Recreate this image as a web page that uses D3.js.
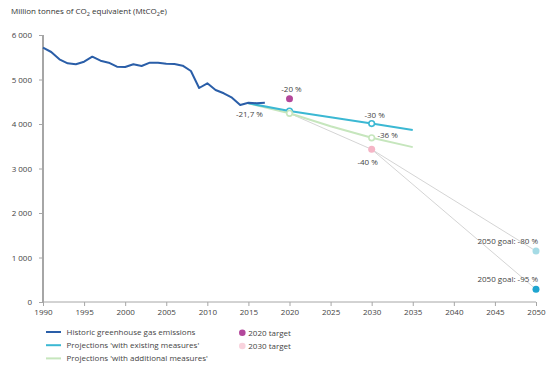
<!DOCTYPE html>
<html>
<head>
<meta charset="utf-8">
<script src="https://cdn.jsdelivr.net/npm/d3@7"></script>
<style>
  body { margin: 0; background: #fff; }
  svg { display: block; font-family: "Open Sans", sans-serif; }
</style>
</head>
<body>
<svg id="chart" width="558" height="368"></svg>
<script>
// data (MtCO2e)
const historicYears = d3.range(1990, 2018);
const historicValues = [5715, 5618, 5454, 5364, 5342, 5400, 5512, 5423, 5378, 5288,
  5281, 5342, 5303, 5378, 5378, 5355, 5348, 5310, 5191, 4809,
  4914, 4764, 4690, 4591, 4427, 4479, 4465, 4479];
const projYears = [2015, 2020, 2025, 2030, 2035];
const existingValues = [4465, 4290, 4150, 4010, 3865];
const additionalValues = [4465, 4240, 3950, 3690, 3480];
const yTicks = [0, 1000, 2000, 3000, 4000, 5000, 6000];
const xTicks = d3.range(1990, 2051, 5);

const target2020 = {year: 2020, value: 4569};
const target2030 = {year: 2030, value: 3430};
const goal80 = {year: 2050, value: 1144};
const goal95 = {year: 2050, value: 286};

const width = 558, height = 368;
const svg = d3.select('#chart');

// scales
const x = d3.scaleLinear().domain([1990, 2050]).range([43, 536]);
const y = d3.scaleLinear().domain([0, 6000]).range([302, 35]);

// title
const title = svg.append('text')
  .attr('x', 11).attr('y', 14)
  .attr('font-size', 8).attr('fill', '#333');
title.append('tspan').text('Million tonnes of CO');
title.append('tspan').attr('font-size', 5.5).attr('dy', 2).text('2');
title.append('tspan').attr('dy', -2).text(' equivalent (MtCO');
title.append('tspan').attr('font-size', 5.5).attr('dy', 2).text('2');
title.append('tspan').attr('dy', -2).text('e)');

// axes
const yAxis = svg.append('g')
  .attr('transform', 'translate(43,0)')
  .call(d3.axisLeft(y).tickValues(yTicks).tickSize(4).tickPadding(7)
    .tickFormat(d => d3.format(',')(d).replace(',', ' ')));
yAxis.select('.domain').attr('stroke', '#a6a6a6').attr('stroke-width', 2)
  .attr('d', `M0,${y(6000)}V${y(0)}`);

const xAxis = svg.append('g')
  .attr('transform', 'translate(0,302)')
  .call(d3.axisBottom(x).tickValues(xTicks).tickSize(4).tickPadding(3)
    .tickFormat(d3.format('d')));
xAxis.select('.domain').attr('stroke', '#a6a6a6').attr('d', `M${x(1990)},0H${x(2050)}`);

[yAxis, xAxis].forEach(a => {
  a.selectAll('.tick line').attr('stroke', '#a6a6a6');
  a.selectAll('.tick text').attr('fill', '#444').attr('font-size', 8)
    .attr('font-family', '"Open Sans", sans-serif');
});

// grey goal paths
const gline = d3.line().x(d => x(d.year)).y(d => y(d.value));
const start2020 = {year: 2020, value: additionalValues[1]};
svg.append('path')
  .attr('d', gline([start2020, target2030, goal80]))
  .attr('fill', 'none').attr('stroke', '#cfcfcf').attr('stroke-width', 0.9);
svg.append('path')
  .attr('d', gline([target2030, goal95]))
  .attr('fill', 'none').attr('stroke', '#cfcfcf').attr('stroke-width', 0.9);

// lines
const line = d3.line().x(d => x(d[0])).y(d => y(d[1]));
svg.append('path')
  .attr('d', line(d3.zip(projYears, additionalValues)))
  .attr('fill', 'none').attr('stroke', '#c6e6bd').attr('stroke-width', 2);
svg.append('path')
  .attr('d', line(d3.zip(projYears, existingValues)))
  .attr('fill', 'none').attr('stroke', '#3bb8d3').attr('stroke-width', 2);
svg.append('path')
  .attr('d', line(d3.zip(historicYears, historicValues)))
  .attr('fill', 'none').attr('stroke', '#2a5ea8').attr('stroke-width', 2)
  .attr('stroke-linejoin', 'round');

// ring markers
const rings = [
  [2020, existingValues[1], '#3bb8d3'],
  [2030, existingValues[3], '#3bb8d3'],
  [2020, additionalValues[1], '#c6e6bd'],
  [2030, additionalValues[3], '#c6e6bd']
];
svg.selectAll('circle.ring').data(rings).join('circle')
  .attr('class', 'ring')
  .attr('cx', d => x(d[0])).attr('cy', d => y(d[1])).attr('r', 2.8)
  .attr('fill', '#fff').attr('stroke', d => d[2]).attr('stroke-width', 1.6);

// target dots
const dots = [
  [target2020, '#b3479b'],
  [target2030, '#f5b5c6'],
  [goal80, '#a5dbe5'],
  [goal95, '#1fa5cf']
];
svg.selectAll('circle.dot').data(dots).join('circle')
  .attr('class', 'dot')
  .attr('cx', d => x(d[0].year)).attr('cy', d => y(d[0].value)).attr('r', 3.5)
  .attr('fill', d => d[1]);

// labels
const labels = [
  ['-21,7 %', 2015, historicValues[25], 1, 12, 'middle'],
  ['-20 %', 2020, target2020.value, 2, -9, 'middle'],
  ['-30 %', 2030, existingValues[3], 3, -8, 'middle'],
  ['-36 %', 2030, additionalValues[3], 16, -3, 'middle'],
  ['-40 %', 2030, target2030.value, -4, 13, 'middle'],
  ['2050 goal: -80 %', 2050, goal80.value, 2, -10, 'end'],
  ['2050 goal: -95 %', 2050, goal95.value, 2, -10, 'end']
];
svg.selectAll('text.lab').data(labels).join('text')
  .attr('class', 'lab')
  .attr('x', d => x(d[1]) + d[3]).attr('y', d => y(d[2]) + d[4])
  .attr('dy', '0.35em').attr('text-anchor', d => d[5])
  .attr('font-size', 8).attr('fill', '#444').text(d => d[0]);

// legend
const legLines = [
  ['Historic greenhouse gas emissions', '#2a5ea8'],
  ["Projections 'with existing measures'", '#3bb8d3'],
  ["Projections 'with additional measures'", '#c6e6bd']
];
const lg = svg.append('g');
legLines.forEach((d, i) => {
  const yy = 332 + i * 13.2;
  lg.append('line').attr('x1', 46).attr('x2', 61).attr('y1', yy).attr('y2', yy)
    .attr('stroke', d[1]).attr('stroke-width', 2);
  lg.append('text').attr('x', 66.5).attr('y', yy).attr('dy', '0.35em')
    .attr('font-size', 8).attr('fill', '#444').text(d[0]);
});
const legDots = [['2020 target', '#b3479b'], ['2030 target', '#f9d3dd']];
legDots.forEach((d, i) => {
  const yy = 332.7 + i * 13.3;
  lg.append('circle').attr('cx', 242.3).attr('cy', yy).attr('r', 3.3).attr('fill', d[1]);
  lg.append('text').attr('x', 248.3).attr('y', yy).attr('dy', '0.35em')
    .attr('font-size', 8).attr('fill', '#444').text(d[0]);
});
</script>
</body>
</html>
